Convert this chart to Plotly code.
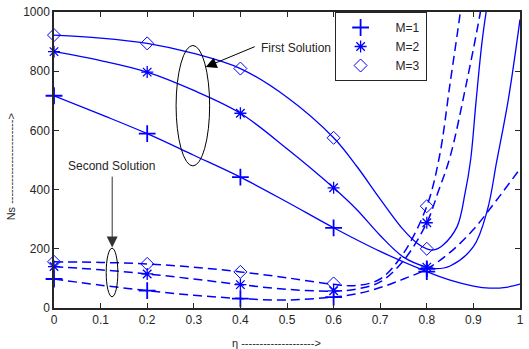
import plotly.graph_objects as go

# ---- data ----
eta_pts = [0, 0.2, 0.4, 0.6, 0.8]

# first solution, marker values
ns1_m1 = [717, 589, 442, 271, 123]
ns1_m2 = [866, 797, 658, 406, 138]
ns1_m3 = [922, 894, 809, 575, 200]
# second solution, marker values
ns2_m1 = [98, 59, 32, 37, 132]
ns2_m2 = [140, 115, 79, 58, 288]
ns2_m3 = [156, 149, 122, 83, 344]

# first solution curves
c1_m1_x = [0, 0.1, 0.2, 0.3, 0.4, 0.5, 0.6, 0.7, 0.8, 0.85, 0.9, 0.935, 0.97, 1.0]
c1_m1_y = [717, 654, 589, 516, 442, 358, 271, 191, 123, 94, 74, 67, 70, 81]
c1_m2_x = [0, 0.1, 0.2, 0.3, 0.4, 0.5, 0.6, 0.65, 0.7, 0.75, 0.8, 0.82, 0.85, 0.9, 0.93, 0.95, 0.975, 1.0]
c1_m2_y = [866, 836, 797, 735, 658, 538, 406, 332, 245, 172, 138, 133, 142, 207, 331, 495, 705, 975]
c1_m3_x = [0, 0.1, 0.2, 0.3, 0.4, 0.5, 0.6, 0.65, 0.7, 0.75, 0.78, 0.8, 0.815, 0.835, 0.865, 0.882, 0.894, 0.906, 0.919, 0.935]
c1_m3_y = [922, 912, 894, 860, 809, 712, 575, 478, 368, 264, 218, 200, 196, 213, 275, 387, 500, 703, 905, 1080]

# second solution curves
c2_m1_x = [0, 0.1, 0.2, 0.3, 0.4, 0.5, 0.6, 0.65, 0.7, 0.75, 0.8, 0.85, 0.9, 0.95, 1.0]
c2_m1_y = [98, 77, 59, 43, 32, 27, 37, 48, 69, 98, 132, 188, 265, 365, 470]
c2_m2_x = [0, 0.1, 0.2, 0.3, 0.4, 0.5, 0.6, 0.65, 0.7, 0.75, 0.8, 0.825, 0.85, 0.885, 0.915, 0.925]
c2_m2_y = [140, 129, 115, 98, 79, 63, 57, 64, 88, 160, 288, 395, 511, 759, 1000, 1100]
c2_m3_x = [0, 0.1, 0.2, 0.3, 0.4, 0.5, 0.6, 0.65, 0.7, 0.75, 0.8, 0.827, 0.85, 0.872, 0.88]
c2_m3_y = [156, 154, 149, 138, 122, 102, 80, 76, 98, 185, 344, 511, 759, 1000, 1100]

x_ticks = [0, 0.1, 0.2, 0.3, 0.4, 0.5, 0.6, 0.7, 0.8, 0.9, 1]
y_ticks = [0, 200, 400, 600, 800, 1000]
legend_names = ["M=1", "M=2", "M=3"]

BLUE = "#0000FF"
DARK = "#262626"
FONT = "Liberation Sans, Arial, sans-serif"

symbols = ["cross-thin-open", "asterisk-open", "diamond-open"]
msizes = [12, 10, 10]
mwidths = [1.8, 1.3, 1.0]

fig = go.Figure()

curves = [
    (c1_m1_x, c1_m1_y, "solid"), (c1_m2_x, c1_m2_y, "solid"), (c1_m3_x, c1_m3_y, "solid"),
    (c2_m1_x, c2_m1_y, "9px,5px"), (c2_m2_x, c2_m2_y, "9px,5px"), (c2_m3_x, c2_m3_y, "9px,5px"),
]
for cx, cy, dash in curves:
    fig.add_trace(go.Scatter(
        x=cx, y=cy, mode="lines", showlegend=False, hoverinfo="skip",
        line=dict(color=BLUE, width=1.3 if dash == "solid" else 1.5, dash=dash, shape="spline", smoothing=1.0),
    ))

marker_sets = [ns1_m1, ns1_m2, ns1_m3, ns2_m1, ns2_m2, ns2_m3]
for i, vals in enumerate(marker_sets):
    k = i % 3
    fig.add_trace(go.Scatter(
        x=eta_pts, y=vals, mode="markers", showlegend=False, cliponaxis=False,
        marker=dict(symbol=symbols[k], size=msizes[k], color=BLUE,
                    line=dict(color=BLUE, width=mwidths[k])),
    ))

for k, name in enumerate(legend_names):
    fig.add_trace(go.Scatter(
        x=[None], y=[None], mode="markers", name="\u00a0\u00a0\u00a0" + name,
        marker=dict(symbol=symbols[k], size=msizes[k], color=BLUE,
                    line=dict(color=BLUE, width=mwidths[k])),
    ))

# ellipses
fig.add_shape(type="circle", xref="x", yref="y", x0=0.262, x1=0.334, y0=480, y1=887,
              line=dict(color="black", width=1))
fig.add_shape(type="circle", xref="x", yref="y", x0=0.112, x1=0.137, y0=38, y1=202,
              line=dict(color="black", width=1))

annotations = [
    dict(x=0.3255, y=814, ax=0.434, ay=885, xref="x", yref="y", axref="x", ayref="y",
         text="", showarrow=True, arrowhead=2, arrowsize=2.2, arrowwidth=1, arrowcolor="black"),
    dict(x=0.4404, y=878, xref="x", yref="y", text="First Solution", showarrow=False,
         xanchor="left", yanchor="middle", font=dict(size=12, color=DARK, family=FONT)),
    dict(x=0.1249, y=204, ax=0.1249, ay=449, xref="x", yref="y", axref="x", ayref="y",
         text="", showarrow=True, arrowhead=2, arrowsize=2.2, arrowwidth=1, arrowcolor="#333333"),
    dict(x=0.1234, y=481, xref="x", yref="y", text="Second Solution", showarrow=False,
         xanchor="center", yanchor="middle", font=dict(size=12, color=DARK, family=FONT)),
    dict(x=(278 - 54) / 470, y=-35 / 296, xref="paper", yref="paper",
         text="\u03b7 -------------------->", showarrow=False, xanchor="center", yanchor="middle",
         font=dict(size=11, color=DARK, family=FONT)),
    dict(x=(11 - 54) / 470, y=(308 - 167) / 296, xref="paper", yref="paper",
         text="Ns ----------------------->", textangle=-90, showarrow=False,
         xanchor="center", yanchor="middle", font=dict(size=11, color=DARK, family=FONT)),
]

axis_common = dict(showgrid=False, zeroline=False, showline=True, linecolor=DARK, linewidth=1.5,
                   mirror="ticks", ticks="inside", ticklen=5, tickwidth=1, tickcolor=DARK,
                   tickfont=dict(size=12, color=DARK, family=FONT))

fig.update_layout(
    width=529, height=349,
    margin=dict(l=54, r=5, t=12, b=41),
    paper_bgcolor="white", plot_bgcolor="white",
    xaxis=dict(range=[0, 1], tickvals=x_ticks, ticktext=[str(v) for v in x_ticks], **axis_common),
    yaxis=dict(range=[0, 1000], tickvals=y_ticks, ticktext=[str(v) for v in y_ticks], **axis_common),
    legend=dict(x=(337 - 54) / 470, y=1, xanchor="left", yanchor="top", bgcolor="white",
                bordercolor=DARK, borderwidth=1, itemwidth=40,
                font=dict(size=12, color=DARK, family=FONT)),
    annotations=annotations,
    font=dict(family=FONT),
)

fig.write_html("out.html")
